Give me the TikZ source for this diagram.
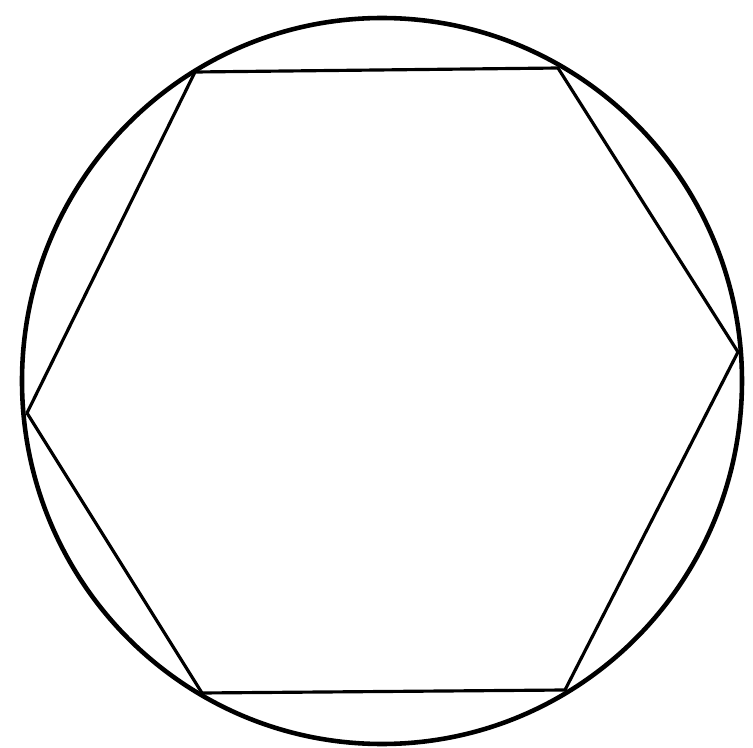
\documentclass[tikz,border=0pt]{standalone}
\begin{document}
\begin{tikzpicture}[x=0.01cm,y=-0.01cm]%
% circle with inscribed hexagon
\ifx\hexlw\undefined\newdimen\hexlw\fi
\global\def\hexdraw{\draw[line width=\hexlw,line join=round]}
\hexlw=0.9pt
\useasboundingbox (0,0) rectangle (753,748);
\coordinate (o) at (382,381);
\coordinate (p1) at (195,72);
\coordinate (p2) at (558,68);
\coordinate (p3) at (738,352);
\coordinate (p4) at (565,690);
\coordinate (p5) at (202,693);
\coordinate (p6) at (27,413);
\draw[line width=1.3pt] (o) ellipse (360 and 363);
\hexdraw (p1)--(p2)--(p3)--(p4)--(p5)--(p6)--cycle;
\end{tikzpicture}
\end{document}
